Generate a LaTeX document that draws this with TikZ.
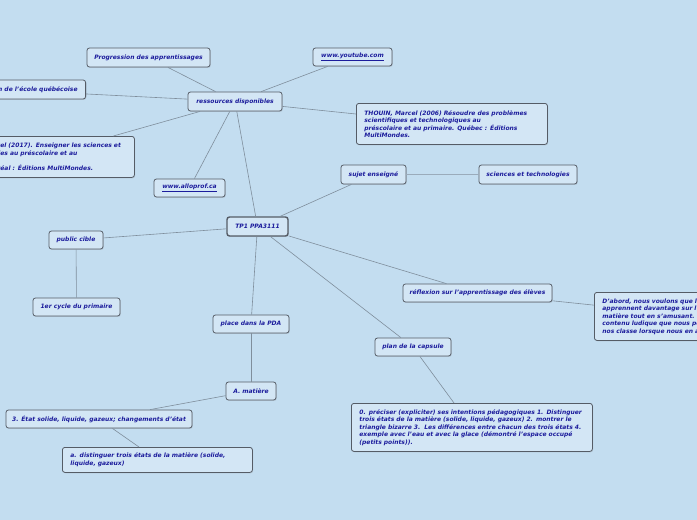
\documentclass[tikz,border=0pt]{standalone}
\usepackage{fontspec}
\setmainfont{DejaVu Sans}
\usetikzlibrary{shadows}
\definecolor{bg}{HTML}{C3DDF0}
\definecolor{nodefill}{HTML}{D3E6F5}
\definecolor{nodeborder}{HTML}{555C66}
\definecolor{txt}{HTML}{1C1C9C}
\definecolor{edgec}{HTML}{7F8E9C}
\definecolor{edgelight}{HTML}{9AABBB}
\newlength\hidA \newlength\hidB \newlength\hidC \newlength\boxTW
\newcommand\mmfont{\fontsize{6}{7.5}\selectfont\bfseries\itshape}
\begin{document}
\settowidth{\hidA}{\mmfont THOUIN, Marc}%
\settowidth{\hidB}{\mmfont technologi}%
\settowidth{\hidC}{\mmfont Montr}%
\setlength{\boxTW}{\dimexpr126pt+\hidA\relax}%
\begin{tikzpicture}[x=1pt,y=-1pt,
  box/.style={draw=nodeborder, line width=0.8pt, fill=nodefill, rounded corners=2.5pt,
    text=txt, font=\mmfont, inner sep=0pt,
    drop shadow={opacity=0.22, shadow xshift=0.8pt, shadow yshift=-0.9pt}},
  mbox/.style={box, align=left, inner xsep=8pt, inner ysep=3pt, anchor=north west},
  edge/.style={draw=edgec, line width=0.6pt},
  lightedge/.style={draw=edgelight, line width=1.3pt}]
\useasboundingbox (0,0) rectangle (697,520);
\clip (0,0) rectangle (697,520);
\fill[bg] (0,0) rectangle (697,520);

\node[box, minimum width=123pt, minimum height=19pt] (prog) at (148.5,57.5) {Progression des apprentissages};
\node[box, anchor=east, inner xsep=8pt, minimum height=19pt] (pfeq) at (86,89.5) {Programme de formation de l'école québécoise};
\node[box, minimum width=94pt, minimum height=19pt] (res) at (235,101.5) {ressources disponibles};
\node[box, minimum width=79pt, minimum height=18pt] (yt) at (352.5,57) {\underline{www.youtube.com}};
\node[mbox, text width=175pt, minimum height=41pt] (th06) at (356,103) {THOUIN, Marcel (2006) Résoudre des problèmes\\scientifiques et technologiques au\\préscolaire et au primaire. Québec : Éditions\\MultiMondes.};
\node[mbox, text width=\boxTW, minimum height=41pt] (th17) at (-\hidA-8pt,-136pt) {THOUIN, Marcel (2017). Enseigner les sciences et\\\hspace*{\dimexpr\hidA-\hidB\relax}technologies au préscolaire et au\\primaire.\\\hspace*{\dimexpr\hidA-\hidC\relax}Montréal : Éditions MultiMondes.};
\node[box, minimum width=71pt, minimum height=18pt] (allo) at (189.5,188) {\underline{www.alloprof.ca}};
\node[box, minimum width=65pt, minimum height=19pt] (sujet) at (373.5,174.5) {sujet enseigné};
\node[box, minimum width=98pt, minimum height=19pt] (sci) at (528,174.5) {sciences et technologies};
\node[box, line width=1.4pt, minimum width=61pt, minimum height=19pt] (tp1) at (257.5,226.5) {TP1 PPA3111};
\node[box, minimum width=54pt, minimum height=18pt] (pub) at (76,240) {public cible};
\node[box, minimum width=87pt, minimum height=18pt] (cyc) at (76.5,307) {1er cycle du primaire};
\node[box, minimum width=149pt, minimum height=18pt] (refl) at (477.5,293) {réflexion sur l'apprentissage des élèves};
\node[mbox, text width=200pt, minimum height=48pt] (dab) at (594,292) {D'abord, nous voulons que l\\apprennent davantage sur l\\matière tout en s'amusant. l\\contenu ludique que nous pe\\nos classe lorsque nous en a};
\node[box, minimum width=76pt, minimum height=18pt] (place) at (251,324) {place dans la PDA};
\node[box, minimum width=76pt, minimum height=18pt] (plan) at (413,347) {plan de la capsule};
\node[box, minimum width=50pt, minimum height=18pt] (mat) at (251,391) {A. matière};
\node[box, minimum width=186pt, minimum height=18pt] (etat) at (99,419) {3. État solide, liquide, gazeux; changements d'état};
\node[mbox, text width=174pt, minimum height=25pt] (adist) at (62,447) {a. distinguer trois états de la matière (solide,\\liquide, gazeux)};
\node[mbox, text width=225pt, minimum height=48pt] (prec) at (351,403) {0. préciser (expliciter) ses intentions pédagogiques 1. Distinguer\\trois états de la matière (solide, liquide, gazeux) 2. montrer le\\triangle bizarre 3.\ \ Les différences entre chacun des trois états 4.\\exemple avec l'eau et avec la glace (démontré l'espace occupé\\(petits points)).};

\draw[edge] (res) -- (prog);
\draw[edge] (res) -- (pfeq);
\draw[edge] (res) -- (yt);
\draw[edge] (res) -- (th06);
\draw[edge] (res) -- (th17);
\draw[edge] (res) -- (allo);
\draw[edge] (res) -- (tp1);
\draw[edge] (tp1) -- (sujet);
\draw[lightedge] (sujet) -- (sci);
\draw[edge] (tp1) -- (pub);
\draw[edge] (pub) -- (cyc);
\draw[edge] (tp1) -- (refl);
\draw[edge] (tp1) -- (plan);
\draw[edge] (tp1) -- (place);
\draw[edge] (refl) -- (dab);
\draw[edge] (plan) -- (prec);
\draw[edge] (place) -- (mat);
\draw[edge] (mat) -- (etat);
\draw[edge] (etat) -- (adist);
\end{tikzpicture}
\end{document}
